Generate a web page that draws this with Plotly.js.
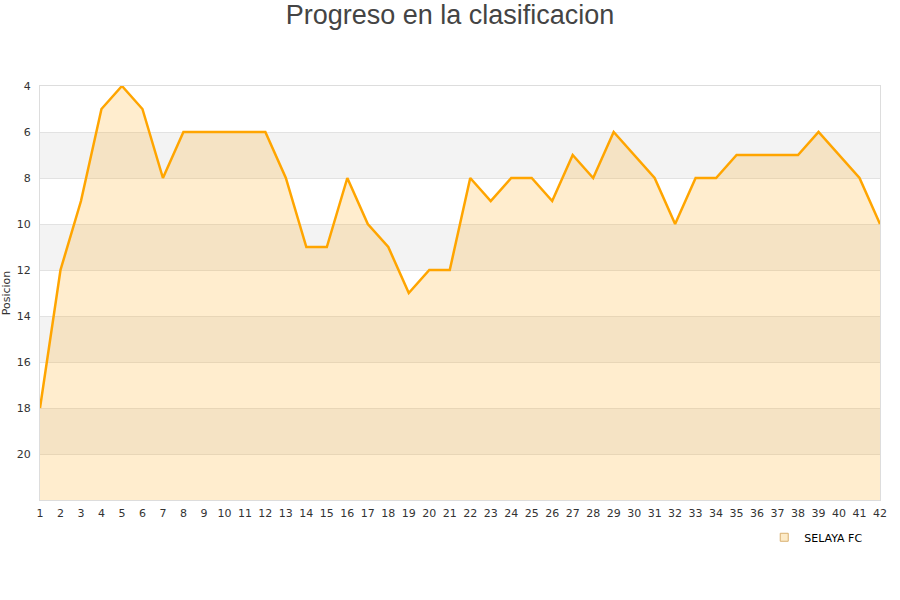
<!DOCTYPE html>
<html>
<head>
<meta charset="utf-8">
<script src="https://cdn.plot.ly/plotly-3.0.1.min.js"></script>
<style>html,body{margin:0;padding:0;background:#fff;}#chart{width:900px;height:600px;}</style>
</head>
<body>
<div id="chart"></div>
<script>
const jornadas = [1,2,3,4,5,6,7,8,9,10,11,12,13,14,15,16,17,18,19,20,21,22,23,24,25,26,27,28,29,30,31,32,33,34,35,36,37,38,39,40,41,42];
const posiciones = [18,12,9,5,4,5,8,6,6,6,6,6,8,11,11,8,10,11,13,12,12,8,9,8,8,9,7,8,6,7,8,10,8,8,7,7,7,7,6,7,8,10];
const equipo = "SELAYA FC";
const yTicks = [4,6,8,10,12,14,16,18,20];
const bandas = [[6,8],[10,12],[14,16],[18,20]];
const fondo = 22;

const shapes = bandas.map(b => ({
  type: 'rect', xref: 'paper', yref: 'y', x0: 0, x1: 1, y0: b[0], y1: b[1],
  fillcolor: '#f3f3f3', line: {width: 0}, layer: 'below'
}));

const data = [
  {x: jornadas, y: jornadas.map(() => fondo), mode: 'lines', line: {width: 0}, showlegend: false, hoverinfo: 'skip'},
  {x: jornadas, y: posiciones, name: equipo, mode: 'lines', fill: 'tonexty', showlegend: false,
   fillcolor: 'rgba(255,175,30,0.22)', line: {color: '#ffa500', width: 2.5}},
  {x: [null], y: [null], name: equipo, mode: 'markers', showlegend: true,
   marker: {symbol: 'square', size: 8, color: '#fdebc8', line: {color: '#d9b070', width: 1}}}
];

const layout = {
  width: 900, height: 600,
  margin: {l: 40, r: 20, t: 86, b: 100},
  paper_bgcolor: '#fff', plot_bgcolor: '#fff',
  title: {text: 'Progreso en la clasificacion', x: 0.5, xanchor: 'center', yref: 'container', y: 0.975, yanchor: 'middle',
          font: {family: 'Liberation Sans, Arial, sans-serif', size: 27, color: '#444'}},
  xaxis: {range: [1, 42], tickmode: 'array', tickvals: jornadas, ticktext: jornadas.map(String),
          showgrid: false, zeroline: false, showline: true, linecolor: '#dddddd', mirror: true,
          tickfont: {family: 'DejaVu Sans, sans-serif', size: 11, color: '#333'}, ticks: '', ticklabelstandoff: 3, fixedrange: true},
  yaxis: {range: [22, 4], tickmode: 'array', tickvals: yTicks, ticktext: yTicks.map(String),
          showgrid: true, gridcolor: '#e2e2e2', zeroline: false, showline: true, linecolor: '#dddddd', mirror: true,
          tickfont: {family: 'DejaVu Sans, sans-serif', size: 11, color: '#333'}, ticks: '', ticklen: 0, ticklabelstandoff: 6,
          title: {text: 'Posicion', font: {family: 'DejaVu Sans, sans-serif', size: 11, color: '#333'}, standoff: 4}},
  shapes: shapes,
  showlegend: true,
  legend: {x: 0.986, xanchor: 'right', y: -0.055, yanchor: 'top', orientation: 'h',
           font: {family: 'DejaVu Sans, sans-serif', size: 11, color: '#000'}, bgcolor: 'rgba(0,0,0,0)'}
};

Plotly.newPlot('chart', data, layout, {displayModeBar: false, staticPlot: true});
</script>
</body>
</html>
